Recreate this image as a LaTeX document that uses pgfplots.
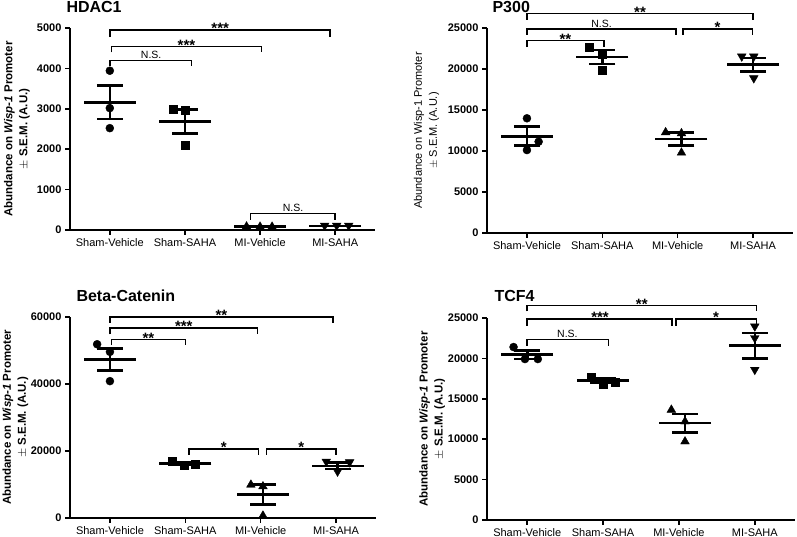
\documentclass[border=0pt]{standalone}
\usepackage{fontspec}
\setmainfont{Liberation Sans}
\usepackage{pgfplots}
\pgfplotsset{compat=1.18}

\pgfplotsset{
  gp/.style={
    scale only axis,
    axis x line=bottom, axis y line=left,
    axis line style={-, line width=1.8pt},
    xmin=-0.53, xmax=3.53, ymin=0,
    xtick={0,1,2,3},
    xticklabels={Sham-Vehicle,Sham-SAHA,MI-Vehicle,MI-SAHA},
    tick align=outside, major tick length=5pt,
    tick style={line width=1.6pt, black},
    xticklabel style={font=\fontsize{11}{13}\selectfont},
    yticklabel style={font=\bfseries\fontsize{11}{13}\selectfont},
    /pgf/number format/assume math mode=true,
    /pgf/number format/1000 sep={},
    scaled y ticks=false,
    clip=false,
    y label style={at={(axis description cs:#1,0.5)}, anchor=south, align=center},
  },
  pts/.style={black, only marks, mark=#1, mark size=4pt, mark options={fill=black, line width=0.4pt}},
  tri/.style={black, only marks, mark=triangle*, mark size=5pt, mark options={fill=black, line width=0.4pt, rotate=#1}},
  meanline/.style={black, only marks, mark=-, mark size=26pt, line width=2.6pt},
  mean/.style={meanline,
    error bars/y dir=both, error bars/y explicit,
    error bars/error mark=|,
    error bars/error bar style={line width=2.6pt, black},
    error bars/error mark options={black, mark size=13pt, line width=2.6pt}},
}
\tikzset{
  br/.style={line width=1.5pt},
  star/.style={font=\bfseries\fontsize{15}{15}\selectfont, anchor=south, inner sep=0pt, yshift=-4pt},
  ns/.style={font=\fontsize{10.5}{12}\selectfont, anchor=south, inner sep=1.5pt},
}

\begin{document}
\begin{tikzpicture}
\useasboundingbox (0,0) rectangle (797pt,537pt);

% HDAC1
\begin{axis}[gp=-0.12, at={(70pt,307pt)}, anchor=south west, width=305pt, height=202pt,
  ymax=5000, ytick={0,1000,...,5000},
  ylabel={\bfseries Abundance on \textit{Wisp-1} Promoter\\[2pt]$\pm$ \bfseries S.E.M. (A.U.)},
  ylabel style={font=\fontsize{11.5}{13}\selectfont}]
\addplot[pts=*] coordinates {(0,3942) (0,3017) (0,2521)};
\addplot[pts=square*] coordinates {(0.84,2992) (1,2959) (1,2091)};
\addplot[tri=0] coordinates {(1.82,85) (2,80) (2.16,80)};
\addplot[tri=180] coordinates {(2.86,110) (3.02,110) (3.18,110)};
\addplot[mean] coordinates {(0,3160) +- (0,413) (1,2680) +- (0,297)};
\addplot[meanline] coordinates {(2,80) (3,100)};
\draw[br] (axis cs:0,4777) |- (axis cs:2.93,4950) -- (axis cs:2.93,4777);
\node[star] at (axis cs:1.47,4950) {***};
\draw[br] (axis cs:0.02,4397) |- (axis cs:2.02,4545) -- (axis cs:2.02,4397);
\node[star] at (axis cs:1.02,4545) {***};
\draw[br] (axis cs:0,4050) |- (axis cs:1.09,4190) -- (axis cs:1.09,4050);
\node[ns] at (axis cs:0.55,4190) {N.S.};
\draw[br] (axis cs:1.87,248) |- (axis cs:3,413) -- (axis cs:3,248);
\node[ns] at (axis cs:2.44,413) {N.S.};
\end{axis}
\node[anchor=base west, font=\bfseries\fontsize{16}{18}\selectfont] at (63pt,524pt) {HDAC1};

% P300
\begin{axis}[gp=-0.145, at={(487pt,304pt)}, anchor=south west, width=306pt, height=205pt,
  ymax=25000, ytick={0,5000,...,25000},
  ylabel={Abundance on Wisp-1 Promoter\\[2pt]$\pm$ S.E.M. (A.U.)},
  ylabel style={font=\fontsize{11}{13}\selectfont}]
\addplot[pts=*] coordinates {(0,13989) (0,10114) (0.155,11134)};
\addplot[pts=square*] coordinates {(0.82,22675) (1,21860) (1,19820)};
\addplot[tri=0] coordinates {(1.84,12275) (2.05,12153) (2.05,9788)};
\addplot[tri=180] coordinates {(2.85,21533) (3.01,21533) (3.01,18883)};
\addplot[mean] coordinates {(0,11800) +- (0,1160) (1,21452) +- (0,840) (2.05,11460) +- (0,815) (3,20514) +- (0,816)};
\draw[br] (axis cs:0,26020) |- (axis cs:3,26754) -- (axis cs:3,26020);
\node[star] at (axis cs:1.5,26754) {**};
\draw[br] (axis cs:0,24184) |- (axis cs:1.98,24878) -- (axis cs:1.98,24184);
\node[ns] at (axis cs:0.99,24878) {N.S.};
\draw[br] (axis cs:2.07,24184) |- (axis cs:2.99,24878) -- (axis cs:2.99,24184);
\node[star] at (axis cs:2.53,24878) {*};
\draw[br] (axis cs:0,22675) |- (axis cs:1.02,23491) -- (axis cs:1.02,22675);
\node[star] at (axis cs:0.51,23491) {**};
\end{axis}
\node[anchor=base west, font=\bfseries\fontsize{16}{18}\selectfont] at (489pt,524pt) {P300};

% Beta-Catenin
\begin{axis}[gp=-0.125, at={(70pt,19pt)}, anchor=south west, width=306pt, height=201pt,
  ymax=60000, ytick={0,20000,...,60000},
  ylabel={\bfseries Abundance on \textit{Wisp-1} Promoter\\[2pt]$\pm$ \bfseries S.E.M. (A.U.)},
  ylabel style={font=\fontsize{11.5}{13}\selectfont}]
\addplot[pts=*] coordinates {(-0.17,51870) (0,49590) (0,40860)};
\addplot[pts=square*] coordinates {(0.83,16860) (0.98,15670) (1.13,16166)};
\addplot[tri=0] coordinates {(1.87,9918) (2.03,9422) (2.03,694)};
\addplot[tri=180] coordinates {(2.87,16860) (3.18,16662) (3.02,13885)};
\addplot[mean] coordinates {(0,47307) +- (0,3300) (1,16300) +- (0,350) (2.03,6942) +- (0,2975) (3.02,15570) +- (0,990)};
\draw[br] (axis cs:0,58216) |- (axis cs:2.96,60000) -- (axis cs:2.96,58216);
\node[star] at (axis cs:1.48,60000) {**};
\draw[br] (axis cs:0,54845) |- (axis cs:1.96,56728) -- (axis cs:1.96,54845);
\node[star] at (axis cs:0.98,56728) {***};
\draw[br] (axis cs:0.02,51572) |- (axis cs:1,53357) -- (axis cs:1,51572);
\node[star] at (axis cs:0.51,53357) {**};
\draw[br] (axis cs:1.05,18843) |- (axis cs:1.97,20629) -- (axis cs:1.97,18843);
\node[star] at (axis cs:1.51,20629) {*};
\draw[br] (axis cs:2.08,18843) |- (axis cs:3,20629) -- (axis cs:3,18843);
\node[star] at (axis cs:2.54,20629) {*};
\end{axis}
\node[anchor=base west, font=\bfseries\fontsize{16}{18}\selectfont] at (73pt,235pt) {Beta-Catenin};

% TCF4
\begin{axis}[gp=-0.125, at={(487pt,17pt)}, anchor=south west, width=308pt, height=202pt,
  ymax=25000, ytick={0,5000,...,25000},
  ylabel={\bfseries Abundance on \textit{Wisp-1} Promoter\\[2pt]$\pm$ \bfseries S.E.M. (A.U.)},
  ylabel style={font=\fontsize{11.5}{13}\selectfont}]
\addplot[pts=*] coordinates {(-0.18,21405) (-0.03,19917) (0.14,19917)};
\addplot[pts=square*] coordinates {(0.84,17686) (1,16860) (1.16,17025)};
\addplot[tri=0] coordinates {(1.9,13636) (2.08,12190) (2.08,9711)};
\addplot[tri=180] coordinates {(3,23967) (3,22521) (3,18595)};
\addplot[mean] coordinates {(0,20455) +- (0,540) (1,17231) +- (0,250) (2.08,11983) +- (0,1140) (3,21570) +- (0,1570)};
\draw[br] (axis cs:0,25826) |- (axis cs:3.02,26529) -- (axis cs:3.02,25826);
\node[star] at (axis cs:1.51,26529) {**};
\draw[br] (axis cs:0,24050) |- (axis cs:1.91,24876) -- (axis cs:1.91,24050);
\node[star] at (axis cs:0.96,24876) {***};
\draw[br] (axis cs:1.96,24050) |- (axis cs:3.02,24876) -- (axis cs:3.02,24050);
\node[star] at (axis cs:2.49,24876) {*};
\draw[br] (axis cs:0,21570) |- (axis cs:1.07,22314) -- (axis cs:1.07,21570);
\node[ns] at (axis cs:0.53,22314) {N.S.};
\end{axis}
\node[anchor=base west, font=\bfseries\fontsize{16}{18}\selectfont] at (491pt,235pt) {TCF4};
\end{tikzpicture}
\end{document}
